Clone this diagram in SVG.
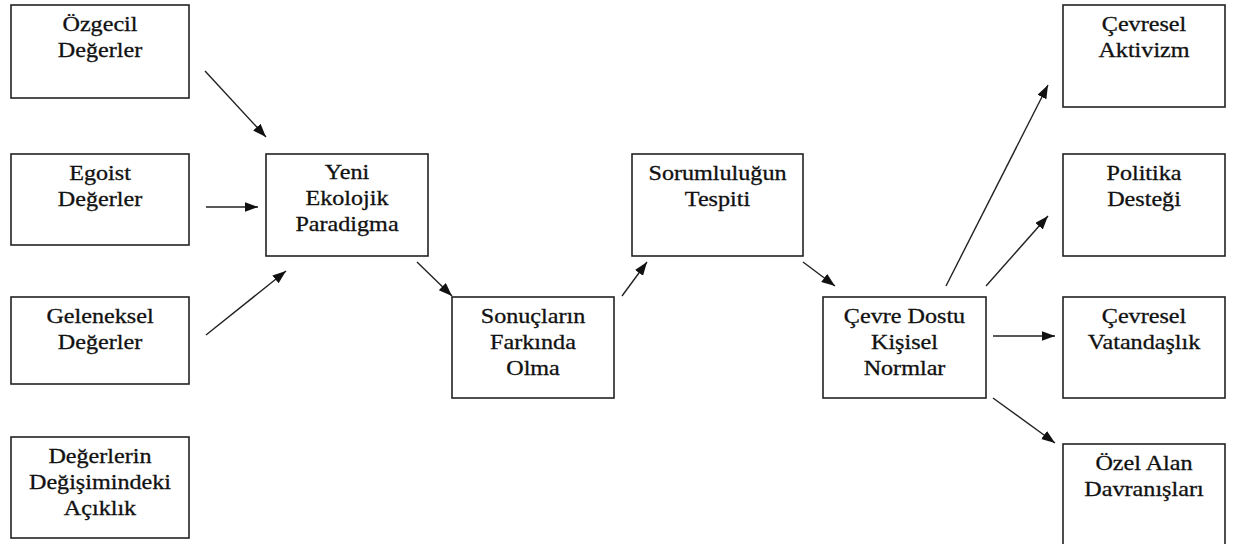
<svg xmlns="http://www.w3.org/2000/svg" width="1233" height="544" viewBox="0 0 1233 544">
<style>
.box{fill:#fff;stroke:#222;stroke-width:1.6}
.t{font-family:"Liberation Serif","Times New Roman",serif;font-size:21px;fill:#111;stroke:#111;stroke-width:0.3;text-anchor:middle}
.c{stroke:#222;stroke-width:1.4;fill:none;marker-end:url(#ah)}
</style>
<defs>
<marker id="ah" markerUnits="userSpaceOnUse" markerWidth="15" markerHeight="11" refX="13.5" refY="5" orient="auto">
<path d="M0,0 L13.5,5 L0,10 z" fill="#111"/>
</marker>
</defs>
<rect width="1233" height="544" fill="#fff"/>
<g id="ozgecil"><rect class="box" x="11" y="5" width="178" height="93"/>
<text class="t" transform="translate(100 0) scale(1.15 1)"><tspan x="0" y="31">Özgecil</tspan><tspan x="0" y="57">Değerler</tspan></text></g>
<g id="egoist"><rect class="box" x="11" y="154" width="178" height="91"/>
<text class="t" transform="translate(100 0) scale(1.15 1)"><tspan x="0" y="180">Egoist</tspan><tspan x="0" y="206">Değerler</tspan></text></g>
<g id="geleneksel"><rect class="box" x="11" y="297" width="178" height="87"/>
<text class="t" transform="translate(100 0) scale(1.15 1)"><tspan x="0" y="323">Geleneksel</tspan><tspan x="0" y="349">Değerler</tspan></text></g>
<g id="acik"><rect class="box" x="11" y="437" width="178" height="101"/>
<text class="t" transform="translate(100 0) scale(1.15 1)"><tspan x="0" y="463">Değerlerin</tspan><tspan x="0" y="489">Değişimindeki</tspan><tspan x="0" y="515">Açıklık</tspan></text></g>
<g id="yeni"><rect class="box" x="266" y="154" width="162" height="102"/>
<text class="t" transform="translate(347 0) scale(1.15 1)"><tspan x="0" y="179">Yeni</tspan><tspan x="0" y="205">Ekolojik</tspan><tspan x="0" y="231">Paradigma</tspan></text></g>
<g id="sonuc"><rect class="box" x="452" y="297" width="162" height="101"/>
<text class="t" transform="translate(533 0) scale(1.15 1)"><tspan x="0" y="323">Sonuçların</tspan><tspan x="0" y="349">Farkında</tspan><tspan x="0" y="375">Olma</tspan></text></g>
<g id="sorum"><rect class="box" x="632" y="154" width="171" height="102"/>
<text class="t" transform="translate(717.5 0) scale(1.15 1)"><tspan x="0" y="180">Sorumluluğun</tspan><tspan x="0" y="206">Tespiti</tspan></text></g>
<g id="cevre"><rect class="box" x="823" y="297" width="163" height="101"/>
<text class="t" transform="translate(904.5 0) scale(1.15 1)"><tspan x="0" y="323">Çevre Dostu</tspan><tspan x="0" y="349">Kişisel</tspan><tspan x="0" y="375">Normlar</tspan></text></g>
<g id="aktivizm"><rect class="box" x="1063" y="5" width="162" height="102"/>
<text class="t" transform="translate(1144 0) scale(1.15 1)"><tspan x="0" y="31">Çevresel</tspan><tspan x="0" y="57">Aktivizm</tspan></text></g>
<g id="politika"><rect class="box" x="1063" y="154" width="162" height="102"/>
<text class="t" transform="translate(1144 0) scale(1.15 1)"><tspan x="0" y="180">Politika</tspan><tspan x="0" y="206">Desteği</tspan></text></g>
<g id="vatandaslik"><rect class="box" x="1063" y="297" width="162" height="101"/>
<text class="t" transform="translate(1144 0) scale(1.15 1)"><tspan x="0" y="323">Çevresel</tspan><tspan x="0" y="349">Vatandaşlık</tspan></text></g>
<g id="ozel"><rect class="box" x="1063" y="444" width="162" height="104"/>
<text class="t" transform="translate(1144 0) scale(1.15 1)"><tspan x="0" y="470">Özel Alan</tspan><tspan x="0" y="496">Davranışları</tspan></text></g>
<g id="connectors">
<line class="c" x1="205" y1="71" x2="266" y2="137"/>
<line class="c" x1="206" y1="207" x2="258" y2="207"/>
<line class="c" x1="206" y1="335" x2="286" y2="271"/>
<line class="c" x1="417" y1="262" x2="452" y2="296"/>
<line class="c" x1="622" y1="296" x2="647" y2="262"/>
<line class="c" x1="803" y1="262" x2="835" y2="286"/>
<line class="c" x1="946" y1="286" x2="1048" y2="85"/>
<line class="c" x1="986" y1="286" x2="1048" y2="216"/>
<line class="c" x1="993" y1="336" x2="1055" y2="336"/>
<line class="c" x1="993" y1="398" x2="1055" y2="443"/>
</g>
</svg>
